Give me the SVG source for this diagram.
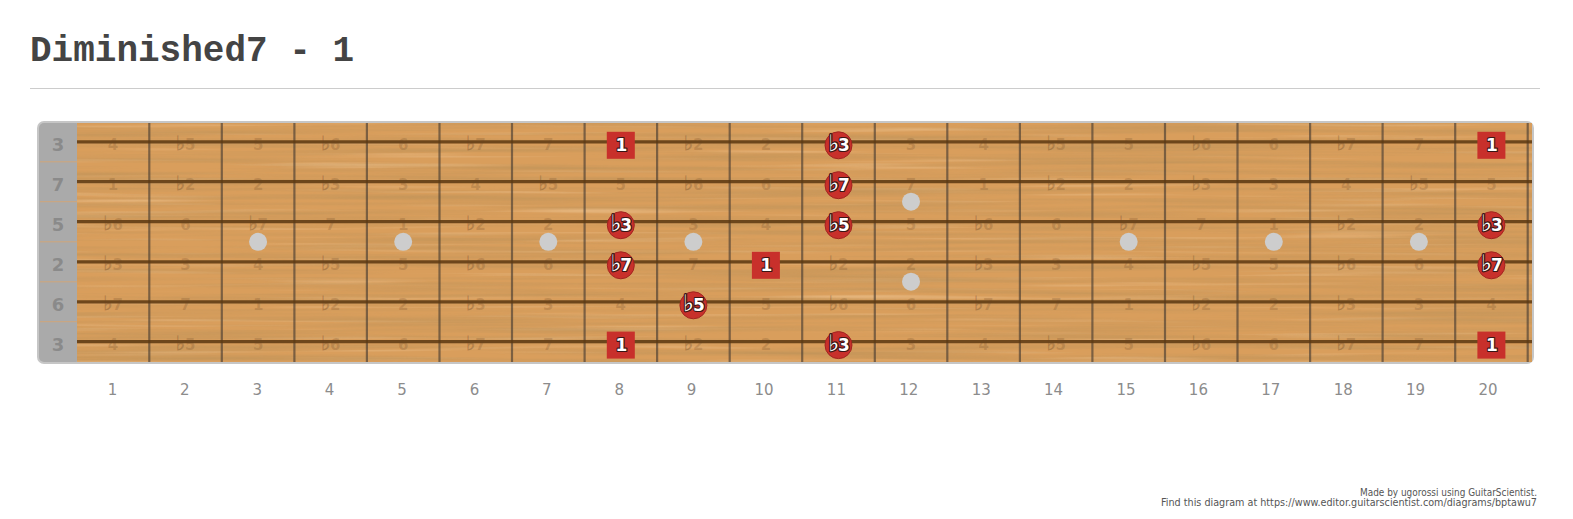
<svg xmlns="http://www.w3.org/2000/svg" width="1573" height="519" viewBox="0 0 1573 519">
<style>
.title{font-family:"Liberation Mono","Courier New",monospace;font-weight:bold;font-size:36px;fill:#444}
.fnum{font-family:"DejaVu Sans",Verdana,sans-serif;font-size:15px;fill:#8c8c8c;text-anchor:middle}
.nut{font-family:"DejaVu Sans",Verdana,sans-serif;font-weight:bold;font-size:18px;fill:#8a8a8a;text-anchor:middle}
.faint text{font-family:"DejaVu Sans",Verdana,sans-serif;font-weight:bold;font-size:15px;fill:#6b4522;fill-opacity:.22;text-anchor:middle}
.fl{font-family:"DejaVu Sans",sans-serif}
.faint .fl{font-size:20px;stroke:#6b4522;stroke-opacity:.22;stroke-width:.8}
.fret{stroke:#4a3e32;stroke-opacity:.65;stroke-width:2.2}
.str{stroke:#5a3710;stroke-opacity:.85;stroke-width:3.2}
.dot{fill:#cdcdcd}
.note circle{fill:#c8302b;stroke:#a32420;stroke-width:1}
.note rect{fill:#c8302b}
.note text{font-family:"DejaVu Sans",Verdana,sans-serif;font-weight:bold;font-size:17px;fill:#fff;text-anchor:middle;stroke:#3a1515;stroke-width:2.2;paint-order:stroke;stroke-linejoin:round;letter-spacing:-1px}
.note .fl{font-size:23px;stroke-width:2.6}
.credit{font-family:"DejaVu Sans",Verdana,sans-serif;font-size:10px;fill:#555;text-anchor:end}
</style>
<defs>
<filter id="grain" x="0" y="0" width="1" height="1">
<feTurbulence type="fractalNoise" baseFrequency="0.003 0.18" numOctaves="3" seed="7"/>
<feColorMatrix type="matrix" values="0 0 0 0 0.55  0 0 0 0 0.3  0 0 0 0 0.1  1.7 0 0 0 -0.62"/>
<feComposite in2="SourceGraphic" operator="in"/>
</filter>
<filter id="grain2" x="0" y="0" width="1" height="1">
<feTurbulence type="fractalNoise" baseFrequency="0.004 0.22" numOctaves="2" seed="21"/>
<feColorMatrix type="matrix" values="0 0 0 0 1  0 0 0 0 0.8  0 0 0 0 0.55  0.9 0 0 0 -0.5"/>
<feComposite in2="SourceGraphic" operator="in"/>
</filter>
</defs>
<rect width="1573" height="519" fill="#fff"/>
<text class="title" x="30" y="61">Diminished7 - 1</text>
<line x1="30" y1="88.5" x2="1540" y2="88.5" stroke="#ccc" stroke-width="1"/>

<g id="board">
<rect x="37" y="121" width="1497" height="243" rx="7" fill="#c6c6c6"/>
<rect x="39" y="123" width="42" height="239" rx="5" fill="#aaa"/>
<rect x="77" y="123" width="1455" height="239" fill="#d99e5c"/>
<rect x="77" y="123" width="1455" height="239" fill="#fff" filter="url(#grain2)"/>
<rect x="77" y="123" width="1455" height="239" fill="#fff" filter="url(#grain)"/>
<g stroke="#cfa57a" stroke-width="1">
<line x1="40" y1="161.8" x2="77" y2="161.8"/><line x1="40" y1="201.7" x2="77" y2="201.7"/><line x1="40" y1="241.8" x2="77" y2="241.8"/><line x1="40" y1="281.8" x2="77" y2="281.8"/><line x1="40" y1="321.7" x2="77" y2="321.7"/>
</g>
<g id="nut-labels">
<text class="nut" x="58" y="151.3">3</text>
<text class="nut" x="58" y="191.2">7</text>
<text class="nut" x="58" y="231.2">5</text>
<text class="nut" x="58" y="271.3">2</text>
<text class="nut" x="58" y="311.3">6</text>
<text class="nut" x="58" y="351.1">3</text>
</g>
</g>

<g id="frets">
<line class="fret" x1="149.3" y1="123" x2="149.3" y2="362"/>
<line class="fret" x1="221.8" y1="123" x2="221.8" y2="362"/>
<line class="fret" x1="294.4" y1="123" x2="294.4" y2="362"/>
<line class="fret" x1="366.9" y1="123" x2="366.9" y2="362"/>
<line class="fret" x1="439.5" y1="123" x2="439.5" y2="362"/>
<line class="fret" x1="512" y1="123" x2="512" y2="362"/>
<line class="fret" x1="584.6" y1="123" x2="584.6" y2="362"/>
<line class="fret" x1="657.1" y1="123" x2="657.1" y2="362"/>
<line class="fret" x1="729.7" y1="123" x2="729.7" y2="362"/>
<line class="fret" x1="802.2" y1="123" x2="802.2" y2="362"/>
<line class="fret" x1="874.8" y1="123" x2="874.8" y2="362"/>
<line class="fret" x1="947.3" y1="123" x2="947.3" y2="362"/>
<line class="fret" x1="1019.9" y1="123" x2="1019.9" y2="362"/>
<line class="fret" x1="1092.4" y1="123" x2="1092.4" y2="362"/>
<line class="fret" x1="1165" y1="123" x2="1165" y2="362"/>
<line class="fret" x1="1237.5" y1="123" x2="1237.5" y2="362"/>
<line class="fret" x1="1310.1" y1="123" x2="1310.1" y2="362"/>
<line class="fret" x1="1382.6" y1="123" x2="1382.6" y2="362"/>
<line class="fret" x1="1455.2" y1="123" x2="1455.2" y2="362"/>
<line class="fret" x1="1527.7" y1="123" x2="1527.7" y2="362"/>
</g>

<g id="strings">
<line class="str" x1="77" y1="141.8" x2="1532" y2="141.8"/>
<line class="str" x1="77" y1="181.7" x2="1532" y2="181.7"/>
<line class="str" x1="77" y1="221.7" x2="1532" y2="221.7"/>
<line class="str" x1="77" y1="261.8" x2="1532" y2="261.8"/>
<line class="str" x1="77" y1="301.8" x2="1532" y2="301.8"/>
<line class="str" x1="77" y1="341.6" x2="1532" y2="341.6"/>
</g>

<g id="intervals" class="faint">
<g transform="translate(0,150.3)">
<text x="113">4</text><text x="185.5"><tspan class="fl">♭</tspan>5</text><text x="258.1">5</text><text x="330.6"><tspan class="fl">♭</tspan>6</text><text x="403.2">6</text><text x="475.7"><tspan class="fl">♭</tspan>7</text><text x="548.3">7</text><text x="693.4"><tspan class="fl">♭</tspan>2</text><text x="765.9">2</text><text x="911">3</text><text x="983.6">4</text><text x="1056.1"><tspan class="fl">♭</tspan>5</text><text x="1128.7">5</text><text x="1201.2"><tspan class="fl">♭</tspan>6</text><text x="1273.8">6</text><text x="1346.3"><tspan class="fl">♭</tspan>7</text><text x="1418.9">7</text>
</g>
<g transform="translate(0,190.2)">
<text x="113">1</text><text x="185.5"><tspan class="fl">♭</tspan>2</text><text x="258.1">2</text><text x="330.6"><tspan class="fl">♭</tspan>3</text><text x="403.2">3</text><text x="475.7">4</text><text x="548.3"><tspan class="fl">♭</tspan>5</text><text x="620.8">5</text><text x="693.4"><tspan class="fl">♭</tspan>6</text><text x="765.9">6</text><text x="911">7</text><text x="983.6">1</text><text x="1056.1"><tspan class="fl">♭</tspan>2</text><text x="1128.7">2</text><text x="1201.2"><tspan class="fl">♭</tspan>3</text><text x="1273.8">3</text><text x="1346.3">4</text><text x="1418.9"><tspan class="fl">♭</tspan>5</text><text x="1491.4">5</text>
</g>
<g transform="translate(0,230.2)">
<text x="113"><tspan class="fl">♭</tspan>6</text><text x="185.5">6</text><text x="258.1"><tspan class="fl">♭</tspan>7</text><text x="330.6">7</text><text x="403.2">1</text><text x="475.7"><tspan class="fl">♭</tspan>2</text><text x="548.3">2</text><text x="693.4">3</text><text x="765.9">4</text><text x="911">5</text><text x="983.6"><tspan class="fl">♭</tspan>6</text><text x="1056.1">6</text><text x="1128.7"><tspan class="fl">♭</tspan>7</text><text x="1201.2">7</text><text x="1273.8">1</text><text x="1346.3"><tspan class="fl">♭</tspan>2</text><text x="1418.9">2</text>
</g>
<g transform="translate(0,270.3)">
<text x="113"><tspan class="fl">♭</tspan>3</text><text x="185.5">3</text><text x="258.1">4</text><text x="330.6"><tspan class="fl">♭</tspan>5</text><text x="403.2">5</text><text x="475.7"><tspan class="fl">♭</tspan>6</text><text x="548.3">6</text><text x="693.4">7</text><text x="838.5"><tspan class="fl">♭</tspan>2</text><text x="911">2</text><text x="983.6"><tspan class="fl">♭</tspan>3</text><text x="1056.1">3</text><text x="1128.7">4</text><text x="1201.2"><tspan class="fl">♭</tspan>5</text><text x="1273.8">5</text><text x="1346.3"><tspan class="fl">♭</tspan>6</text><text x="1418.9">6</text>
</g>
<g transform="translate(0,310.3)">
<text x="113"><tspan class="fl">♭</tspan>7</text><text x="185.5">7</text><text x="258.1">1</text><text x="330.6"><tspan class="fl">♭</tspan>2</text><text x="403.2">2</text><text x="475.7"><tspan class="fl">♭</tspan>3</text><text x="548.3">3</text><text x="620.8">4</text><text x="765.9">5</text><text x="838.5"><tspan class="fl">♭</tspan>6</text><text x="911">6</text><text x="983.6"><tspan class="fl">♭</tspan>7</text><text x="1056.1">7</text><text x="1128.7">1</text><text x="1201.2"><tspan class="fl">♭</tspan>2</text><text x="1273.8">2</text><text x="1346.3"><tspan class="fl">♭</tspan>3</text><text x="1418.9">3</text><text x="1491.4">4</text>
</g>
<g transform="translate(0,350.1)">
<text x="113">4</text><text x="185.5"><tspan class="fl">♭</tspan>5</text><text x="258.1">5</text><text x="330.6"><tspan class="fl">♭</tspan>6</text><text x="403.2">6</text><text x="475.7"><tspan class="fl">♭</tspan>7</text><text x="548.3">7</text><text x="693.4"><tspan class="fl">♭</tspan>2</text><text x="765.9">2</text><text x="911">3</text><text x="983.6">4</text><text x="1056.1"><tspan class="fl">♭</tspan>5</text><text x="1128.7">5</text><text x="1201.2"><tspan class="fl">♭</tspan>6</text><text x="1273.8">6</text><text x="1346.3"><tspan class="fl">♭</tspan>7</text><text x="1418.9">7</text>
</g>
</g>

<g id="inlays">
<circle class="dot" cx="258.1" cy="241.8" r="9"/>
<circle class="dot" cx="403.2" cy="241.8" r="9"/>
<circle class="dot" cx="548.3" cy="241.8" r="9"/>
<circle class="dot" cx="693.4" cy="241.8" r="9"/>
<circle class="dot" cx="911" cy="201.7" r="9"/>
<circle class="dot" cx="911" cy="281.7" r="9"/>
<circle class="dot" cx="1128.7" cy="241.8" r="9"/>
<circle class="dot" cx="1273.8" cy="241.8" r="9"/>
<circle class="dot" cx="1418.9" cy="241.8" r="9"/>
</g>

<g id="notes">
<g id="n-s1-f8" class="note"><rect x="606.8" y="131.8" width="28" height="27"/><text x="620.8" y="151.3">1</text></g>
<g id="n-s1-f11" class="note"><circle cx="838.5" cy="145.3" r="13.5"/><text x="838.5" y="151.3"><tspan class="fl">♭</tspan>3</text></g>
<g id="n-s1-f20" class="note"><rect x="1477.4" y="131.8" width="28" height="27"/><text x="1491.4" y="151.3">1</text></g>
<g id="n-s2-f11" class="note"><circle cx="838.5" cy="185.2" r="13.5"/><text x="838.5" y="191.2"><tspan class="fl">♭</tspan>7</text></g>
<g id="n-s3-f8" class="note"><circle cx="620.8" cy="225.2" r="13.5"/><text x="620.8" y="231.2"><tspan class="fl">♭</tspan>3</text></g>
<g id="n-s3-f11" class="note"><circle cx="838.5" cy="225.2" r="13.5"/><text x="838.5" y="231.2"><tspan class="fl">♭</tspan>5</text></g>
<g id="n-s3-f20" class="note"><circle cx="1491.4" cy="225.2" r="13.5"/><text x="1491.4" y="231.2"><tspan class="fl">♭</tspan>3</text></g>
<g id="n-s4-f8" class="note"><circle cx="620.8" cy="265.3" r="13.5"/><text x="620.8" y="271.3"><tspan class="fl">♭</tspan>7</text></g>
<g id="n-s4-f10" class="note"><rect x="751.9" y="251.8" width="28" height="27"/><text x="765.9" y="271.3">1</text></g>
<g id="n-s4-f20" class="note"><circle cx="1491.4" cy="265.3" r="13.5"/><text x="1491.4" y="271.3"><tspan class="fl">♭</tspan>7</text></g>
<g id="n-s5-f9" class="note"><circle cx="693.4" cy="305.3" r="13.5"/><text x="693.4" y="311.3"><tspan class="fl">♭</tspan>5</text></g>
<g id="n-s6-f8" class="note"><rect x="606.8" y="331.6" width="28" height="27"/><text x="620.8" y="351.1">1</text></g>
<g id="n-s6-f11" class="note"><circle cx="838.5" cy="345.1" r="13.5"/><text x="838.5" y="351.1"><tspan class="fl">♭</tspan>3</text></g>
<g id="n-s6-f20" class="note"><rect x="1477.4" y="331.6" width="28" height="27"/><text x="1491.4" y="351.1">1</text></g>
</g>

<g id="fret-numbers">
<text class="fnum" x="112.5" y="395">1</text>
<text class="fnum" x="184.8" y="395">2</text>
<text class="fnum" x="257.2" y="395">3</text>
<text class="fnum" x="329.6" y="395">4</text>
<text class="fnum" x="402" y="395">5</text>
<text class="fnum" x="474.4" y="395">6</text>
<text class="fnum" x="546.8" y="395">7</text>
<text class="fnum" x="619.2" y="395">8</text>
<text class="fnum" x="691.6" y="395">9</text>
<text class="fnum" x="764" y="395">10</text>
<text class="fnum" x="836.4" y="395">11</text>
<text class="fnum" x="908.8" y="395">12</text>
<text class="fnum" x="981.2" y="395">13</text>
<text class="fnum" x="1053.6" y="395">14</text>
<text class="fnum" x="1126" y="395">15</text>
<text class="fnum" x="1198.4" y="395">16</text>
<text class="fnum" x="1270.8" y="395">17</text>
<text class="fnum" x="1343.2" y="395">18</text>
<text class="fnum" x="1415.6" y="395">19</text>
<text class="fnum" x="1488" y="395">20</text>
</g>

<g id="credits">
<text class="credit" x="1537" y="496" textLength="177" lengthAdjust="spacingAndGlyphs">Made by ugorossi using GuitarScientist.</text>
<text class="credit" x="1537" y="506" textLength="376" lengthAdjust="spacingAndGlyphs">Find this diagram at https://www.editor.guitarscientist.com/diagrams/bptawu7</text>
</g>
</svg>
